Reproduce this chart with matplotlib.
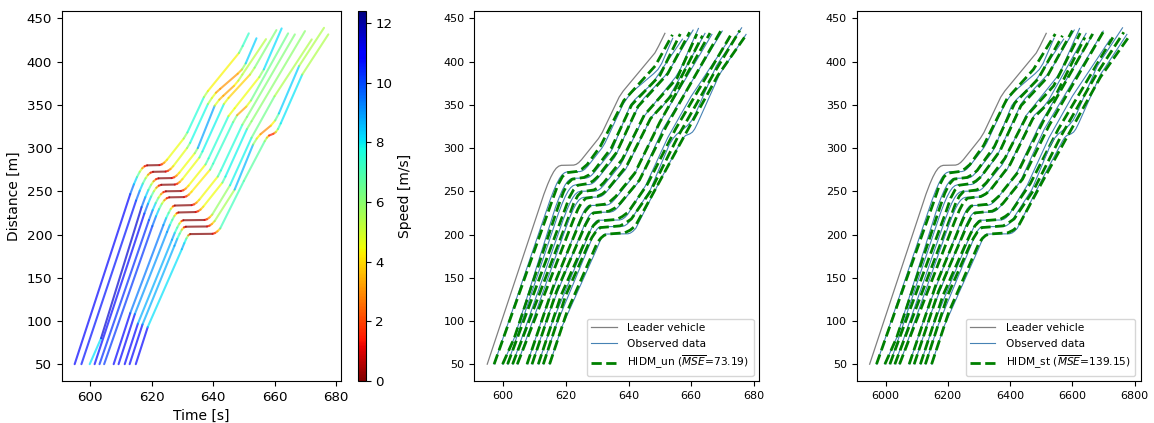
import numpy as np
import matplotlib.pyplot as plt
from matplotlib.collections import LineCollection
from matplotlib.colors import Normalize
from matplotlib.cm import ScalarMappable

# trajectories as (time [s], distance [m]) points; veh01 is the platoon leader
veh01 = [(594.9, 50), (613.0, 246.8), (614.2, 258.2), (615.2, 266.5), (616.1, 272.6), (616.9, 276.6),
         (617.7, 279), (618.5, 280), (622.5, 280.3), (623.3, 281.2), (624.1, 283.2), (625.0, 286.6),
         (630.4, 311), (631.6, 318), (637.0, 359), (638.3, 366), (648.4, 410), (649.6, 418), (651.6, 432.7)]
veh02 = [(597.1, 50), (614.9, 239.3), (616.1, 250.7), (617.1, 259), (618.0, 265.1), (618.8, 269.1),
         (619.6, 271.5), (620.4, 272.5), (624.5, 272.8), (625.3, 273.7), (626.1, 275.7), (627.0, 279.1),
         (631.5, 300), (632.5, 306), (638.3, 351), (639.6, 358), (640.9, 364), (642.3, 368.5), (648.0, 386),
         (649.4, 391), (650.6, 398), (654.1, 427)]
veh03 = [(599.8, 50), (603.5, 80), (616.7, 231.8), (617.9, 243.2), (618.9, 251.5), (619.8, 257.6),
         (620.6, 261.6), (621.4, 264), (622.2, 265), (626.5, 265.3), (627.3, 266.2), (628.1, 268.2),
         (629.0, 271.6), (634.0, 294), (635.0, 300), (640.5, 349), (642.0, 356), (643.3, 360.5), (646.8, 372),
         (648.2, 378), (649.5, 385), (657.2, 426)]
veh04 = [(601.4, 50), (617.6, 224.3), (618.8, 235.7), (619.8, 244), (620.7, 250.1), (621.5, 254.1),
         (622.3, 256.5), (623.1, 257.5), (627.5, 257.8), (628.3, 258.7), (629.1, 260.7), (630.0, 264.1),
         (635.5, 289), (636.5, 296), (643.5, 351), (645.0, 358), (652.0, 385), (653.5, 393), (660.6, 436.5)]
veh05 = [(603.0, 50), (619.1, 216.8), (620.3, 228.2), (621.3, 236.5), (622.2, 242.6), (623.0, 246.6),
         (623.8, 249), (624.6, 250), (629.5, 250.3), (630.3, 251.2), (631.1, 253.2), (632.0, 256.6),
         (637.5, 281), (638.5, 288), (645.0, 337), (647.0, 346), (655.0, 382), (656.5, 391), (662.3, 438.4)]
veh06 = [(604.5, 50), (620.2, 209.8), (621.4, 221.2), (622.4, 229.5), (623.3, 235.6), (624.1, 239.6),
         (624.9, 242), (625.7, 243), (630.5, 243.3), (631.3, 244.2), (632.1, 246.2), (633.0, 249.6),
         (639.0, 275), (640.0, 282), (646.5, 330), (647.8, 338), (650.8, 348), (652.3, 355), (664.4, 432.7)]
veh07 = [(607.6, 50), (613.0, 109), (623.8, 211), (624.7, 219), (625.5, 225), (626.2, 229.6), (626.9, 232.5),
         (627.5, 233.5), (633.0, 234), (633.8, 234.9), (634.6, 236.9), (635.5, 240.3), (641.5, 267),
         (642.5, 274), (649.5, 327), (651.0, 336), (666.6, 431.5)]
veh08 = [(609.2, 50), (614.5, 108), (625.0, 203), (625.9, 211), (626.7, 217), (627.4, 221.6), (628.1, 224.5),
         (628.7, 225.5), (634.3, 226), (635.1, 226.9), (635.9, 228.9), (636.8, 232.3), (643.0, 260),
         (644.0, 267), (651.0, 322), (652.5, 331), (669.9, 435.3)]
veh09 = [(611.2, 50), (615.5, 97), (626.6, 194), (627.5, 202), (628.3, 208), (629.0, 212.6), (629.7, 215.5),
         (630.3, 216.5), (637.2, 216.8), (638.0, 217.7), (638.8, 219.7), (639.7, 223.1), (645.5, 257),
         (652.5, 312), (660.0, 360), (672.1, 425.7)]
veh10 = [(612.8, 50), (617.0, 96), (627.4, 187), (628.3, 195), (629.1, 201), (629.8, 205.6), (630.5, 208.3),
         (631.1, 209), (638.0, 209.3), (638.8, 210.2), (639.6, 212.2), (640.5, 215.6), (647.0, 252),
         (653.0, 304), (654.2, 311), (655.4, 316), (658.8, 326), (660.2, 332), (661.4, 340), (668.0, 395),
         (676.1, 439.1)]
veh11 = [(614.8, 50), (618.7, 93), (629.8, 183), (630.6, 190), (631.3, 195.5), (631.9, 199), (632.5, 200.5),
         (639.8, 200.8), (640.6, 201.7), (641.4, 203.7), (642.3, 207.1), (650.0, 262), (656.8, 308),
         (657.5, 312), (658.2, 314.5), (659.6, 316.5), (660.4, 318.5), (661.1, 322), (662.0, 328.5),
         (669.0, 385), (677.5, 431.5)]

# simulated followers, HIDM_un
un02 = [(597.1, 50), (615.7, 240), (617.4, 257), (618.9, 267), (620.2, 271.5), (623.6, 273), (625.2, 276),
        (626.8, 281), (631.0, 302), (638.5, 355), (648.5, 395), (654.0, 431)]
un03 = [(599.8, 50), (603.5, 80), (617.6, 233), (619.2, 249), (620.6, 259), (622.0, 264), (625.8, 266),
        (627.4, 269), (629.0, 274), (634.5, 300), (641.0, 350), (650.0, 384), (656.5, 432)]
un04 = [(601.4, 50), (619.6, 228), (621.1, 243), (622.5, 252), (623.8, 257), (627.2, 259), (628.7, 262),
        (630.2, 267), (636.2, 295), (643.0, 348), (652.5, 386), (659.5, 434)]
un05 = [(603.0, 50), (621.1, 222), (622.5, 236), (623.8, 245), (625.1, 249.5), (628.9, 251.5), (630.5, 254.5),
        (632.1, 260), (638.0, 287), (645.0, 338), (655.5, 381), (661.8, 432)]
un06 = [(604.5, 50), (622.4, 217), (623.8, 229), (625.1, 237.5), (626.4, 242), (630.0, 244), (631.7, 247),
        (633.3, 252), (639.5, 280), (647.0, 334), (654.0, 362), (663.6, 430)]
un07 = [(607.6, 50), (616.0, 140), (623.6, 207), (624.9, 218), (626.2, 227), (627.6, 233), (632.4, 235),
        (634.2, 238.5), (635.9, 244), (642.0, 271), (650.0, 330), (666.0, 433)]
un08 = [(609.2, 50), (617.0, 134), (624.9, 200), (626.2, 211), (627.5, 219.5), (628.8, 225), (633.8, 227),
        (635.6, 230.5), (637.3, 236), (643.5, 263), (652.0, 325), (669.5, 436)]
un09 = [(611.2, 50), (618.5, 130), (626.1, 192), (627.4, 202), (628.8, 210.5), (630.3, 215.5), (636.3, 217.5),
        (638.1, 221), (639.9, 226), (646.0, 258), (655.0, 322), (672.5, 430)]
un10 = [(612.8, 50), (620.0, 130), (627.1, 188), (628.3, 196.5), (629.6, 203.5), (631.0, 208), (637.3, 210),
        (639.1, 213.5), (640.9, 218), (647.0, 250), (656.0, 315), (667.0, 385), (675.5, 436)]
un11 = [(614.8, 50), (620.3, 110), (630.1, 191), (631.2, 196), (632.2, 199), (633.3, 200.5), (638.8, 202),
        (640.5, 205), (642.2, 210), (650.0, 262), (657.5, 312), (668.5, 384), (677.0, 428)]

# simulated followers, HIDM_st
st02 = [(597.1, 50), (615.6, 239), (617.2, 256), (618.7, 266.5), (620.0, 271), (624.0, 273), (625.5, 276),
        (627.1, 281), (631.5, 303), (639.0, 357), (647.5, 391), (654.5, 432)]
st03 = [(599.8, 50), (603.5, 80), (617.5, 232), (619.0, 247.5), (620.4, 258), (621.9, 264), (626.2, 266),
        (627.7, 269), (629.4, 274), (635.0, 302), (641.5, 352), (649.0, 380), (656.8, 430)]
st04 = [(601.4, 50), (619.5, 227), (620.9, 242), (622.3, 251.5), (623.6, 257), (627.6, 259), (629.1, 262),
        (630.7, 267), (636.8, 297), (643.5, 349), (651.5, 380), (660.0, 436)]
st05 = [(603.0, 50), (621.0, 221), (622.4, 235), (623.7, 244.5), (625.0, 249.5), (629.2, 251.5), (630.8, 254.5),
        (632.4, 260), (638.3, 288), (645.5, 338), (654.0, 372), (662.5, 433)]
st06 = [(604.5, 50), (622.3, 216), (623.7, 228), (625.0, 237), (626.3, 242), (630.6, 244), (632.2, 247),
        (633.8, 252), (640.0, 281), (647.3, 334), (654.5, 360), (664.0, 428)]
st07 = [(607.6, 50), (616.0, 140), (623.5, 206), (624.8, 217), (626.1, 226.5), (627.5, 233), (632.8, 235),
        (634.6, 238.5), (636.3, 244), (642.5, 272), (650.5, 330), (666.5, 432)]
st08 = [(609.2, 50), (617.0, 134), (624.8, 199), (626.1, 210), (627.4, 219), (628.7, 225), (634.3, 227),
        (636.0, 230.5), (637.7, 236), (644.0, 264), (652.5, 326), (670.0, 435)]
st09 = [(611.2, 50), (618.5, 130), (626.0, 191), (627.3, 201), (628.7, 210), (630.2, 215.5), (636.8, 217.5),
        (638.5, 221), (640.3, 226), (646.5, 259), (655.5, 322), (673.0, 428)]
st10 = [(612.8, 50), (620.0, 130), (627.0, 187), (628.2, 195.5), (629.5, 203), (630.9, 208), (637.8, 210),
        (639.5, 213.5), (641.3, 218), (647.5, 251), (656.5, 315), (667.5, 384), (676.5, 434)]
st11 = [(614.8, 50), (620.3, 110), (630.0, 190), (631.1, 195.5), (632.1, 198.8), (633.2, 200.5), (639.3, 202),
        (641.0, 205), (642.7, 210), (650.5, 262), (658.0, 311), (669.0, 382), (677.8, 427)]

mse_un = 73.19
mse_st = 139.15
v_max = 12.4

followers = [veh02, veh03, veh04, veh05, veh06, veh07, veh08, veh09, veh10, veh11]
sim_un = [un02, un03, un04, un05, un06, un07, un08, un09, un10, un11]
sim_st = [st02, st03, st04, st05, st06, st07, st08, st09, st10, st11]

fig = plt.figure(figsize=(11.54, 4.23), dpi=100)

# --- speed-coloured trajectories ---
ax1 = fig.add_axes([0.0537, 0.0993, 0.2418, 0.8747])
norm = Normalize(0, v_max)
for traj in [veh01] + followers:
    pts = np.array(traj, dtype=float)
    segs = np.stack([pts[:-1], pts[1:]], axis=1)
    speed = np.diff(pts[:, 1]) / np.diff(pts[:, 0])
    lc = LineCollection(segs, cmap='jet_r', norm=norm, linewidths=1.5, alpha=0.7, capstyle='round')
    lc.set_array(speed)
    ax1.add_collection(lc)
ax1.autoscale_view()
ax1.set_xlabel('Time [s]', fontsize=10)
ax1.set_ylabel('Distance [m]', fontsize=10)
ax1.tick_params(labelsize=9.6)
ax1.set_yticks(range(50, 451, 50))

cax = fig.add_axes([0.3105, 0.0993, 0.0064, 0.8747])
sm = ScalarMappable(norm=norm, cmap='jet_r')
cb = fig.colorbar(sm, cax=cax, ticks=range(0, 13, 2))
cb.set_label('Speed [m/s]', fontsize=10)
cb.ax.tick_params(labelsize=9.6)


def draw_sim(ax, sims, name, mse, scale):
    lead = np.array(veh01, dtype=float)
    ax.plot(lead[:, 0] * scale, lead[:, 1], color='grey', lw=0.9, label='Leader vehicle')
    for i, (obs, sim) in enumerate(zip(followers, sims)):
        o = np.array(obs, dtype=float)
        s = np.array(sim, dtype=float)
        ax.plot(o[:, 0] * scale, o[:, 1], color='steelblue', lw=0.8,
                label='Observed data' if i == 0 else None)
        ax.plot(s[:, 0] * scale, s[:, 1], color='green', ls='--', lw=2,
                label=name + r' ($\overline{MSE}$=' + f'{mse:.2f})' if i == 0 else None)
    ax.set_yticks(range(50, 451, 50))
    ax.tick_params(labelsize=8)
    ax.legend(loc='lower right', fontsize=7.7, handlelength=2.4, handletextpad=1.0)


ax2 = fig.add_axes([0.411, 0.0993, 0.2467, 0.8747])
draw_sim(ax2, sim_un, 'HIDM_un', mse_un, 1)

# third panel uses 0.1 s time steps on the x axis
ax3 = fig.add_axes([0.7424, 0.0993, 0.2461, 0.8747])
draw_sim(ax3, sim_st, 'HIDM_st', mse_st, 10)
ax3.set_xticks(range(6000, 6801, 200))

fig.savefig('out.png', dpi=100)
